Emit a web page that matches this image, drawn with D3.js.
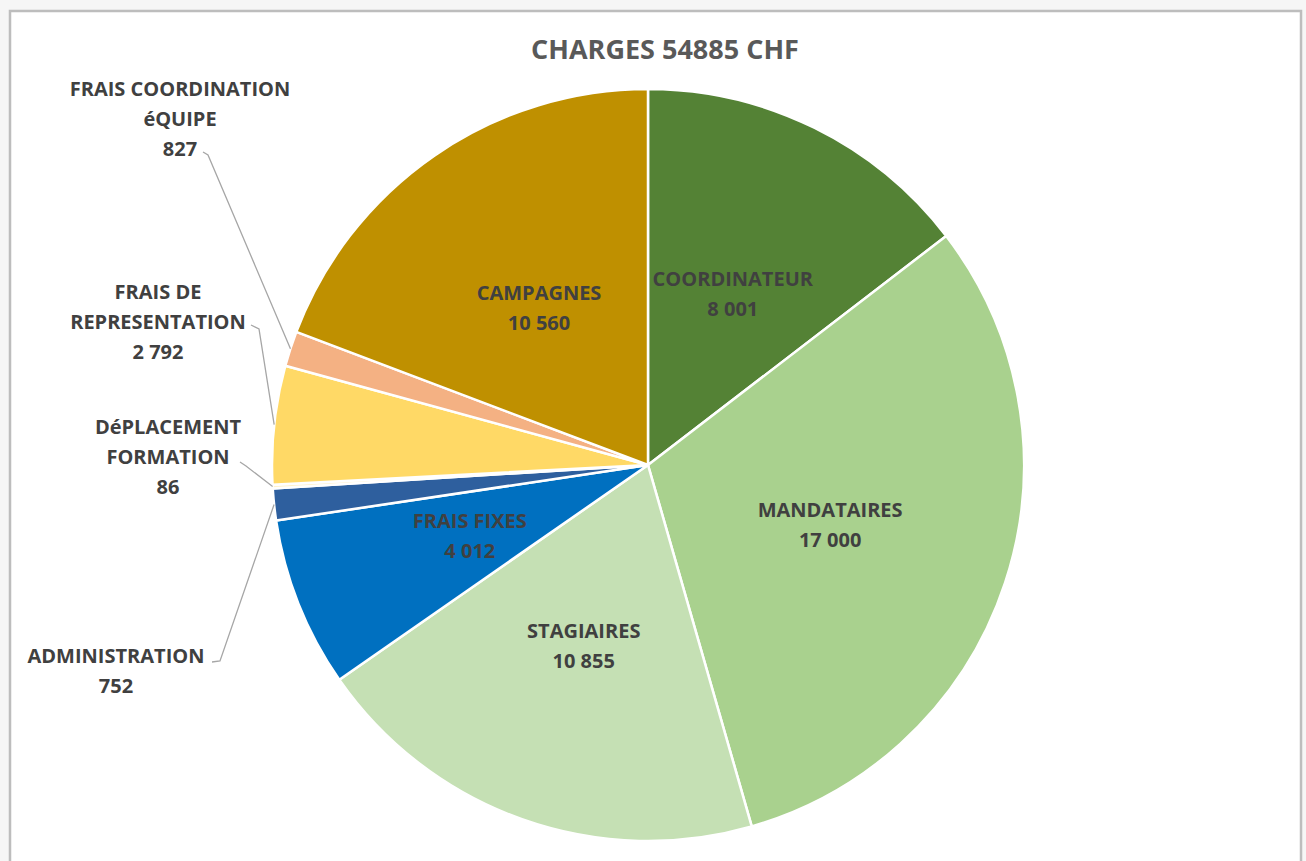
<!DOCTYPE html>
<html>
<head>
<meta charset="utf-8">
<script src="https://cdn.jsdelivr.net/npm/d3@7"></script>
<style>
  html, body { margin: 0; padding: 0; background: #f6f6f6; }
  svg { display: block; }
</style>
</head>
<body>
<svg id="chart" width="1306" height="861"></svg>
<script>
// ---- data ----
const categories = ["COORDINATEUR", "MANDATAIRES", "STAGIAIRES", "FRAIS FIXES", "ADMINISTRATION",
  "DéPLACEMENT FORMATION", "FRAIS DE REPRESENTATION", "FRAIS COORDINATION éQUIPE", "CAMPAGNES"];
const values = [8001, 17000, 10855, 4012, 752, 86, 2792, 827, 10560];
const valueLabels = ["8 001", "17 000", "10 855", "4 012", "752", "86", "2 792", "827", "10 560"];
const labelLines = [["COORDINATEUR"], ["MANDATAIRES"], ["STAGIAIRES"], ["FRAIS FIXES"], ["ADMINISTRATION"],
  ["DéPLACEMENT", "FORMATION"], ["FRAIS DE", "REPRESENTATION"], ["FRAIS COORDINATION", "éQUIPE"], ["CAMPAGNES"]];
const colors = ["#548235", "#a9d18e", "#c5e0b4", "#0070c0", "#2e5f9e", "#fff2cc", "#ffd966", "#f4b183", "#bf9000"];
const titleText = "CHARGES 54885 CHF";

// ---- layout (styling only) ----
const W = 1306, H = 861;
const cx = 648, cy = 465, R = 376;
// outside labels: text center x, first-line center y, leader start points
const outside = {
  4: { x: 116, y: 655, tick: [[212, 662], [220, 661]] },
  5: { x: 168, y: 426, tick: [[240, 462], [246, 466]] },
  6: { x: 158, y: 291, tick: [[251, 325], [259, 329]] },
  7: { x: 180, y: 88,  tick: [[203, 152], [208, 155]] }
};

const svg = d3.select("#chart");

// frame
svg.append("rect").attr("x", 0).attr("y", 0).attr("width", W).attr("height", H).attr("fill", "#f6f6f6");
svg.append("rect").attr("x", 10).attr("y", 11).attr("width", 1291).attr("height", 900)
  .attr("fill", "#ffffff").attr("stroke", "#bdbdbd").attr("stroke-width", 2.5);

// title
svg.append("text").attr("x", 665).attr("y", 48)
  .attr("text-anchor", "middle").attr("dominant-baseline", "central")
  .attr("font-family", "'Open Sans', sans-serif").attr("font-weight", 700)
  .attr("font-size", 27).attr("fill", "#595959").text(titleText);

const pie = d3.pie().sort(null).value(d => d)(values);
const arc = d3.arc().innerRadius(0).outerRadius(R);
const labelArc = d3.arc().innerRadius(R * 0.51).outerRadius(R * 0.51);
const edgeArc = d3.arc().innerRadius(R).outerRadius(R);

const g = svg.append("g").attr("transform", `translate(${cx},${cy})`);
g.selectAll("path.slice").data(pie).join("path")
  .attr("class", "slice")
  .attr("d", arc)
  .attr("fill", (d, i) => colors[i])
  .attr("stroke", "#ffffff").attr("stroke-width", 2.5).attr("stroke-linejoin", "round");

const font = "'Open Sans', sans-serif";
const fs = 20, lh = 30;

// inside labels
pie.forEach((d, i) => {
  if (outside[i]) return;
  const [x, y] = labelArc.centroid(d);
  const lines = labelLines[i].concat([valueLabels[i]]);
  const t = g.append("text").attr("text-anchor", "middle")
    .attr("font-family", font).attr("font-weight", 700).attr("font-size", fs)
    .attr("fill", "#404040");
  const y0 = y - (lines.length - 1) * lh / 2;
  lines.forEach((s, k) => {
    t.append("tspan").attr("x", x).attr("y", y0 + k * lh).attr("dominant-baseline", "central").text(s);
  });
});

// outside labels + leader lines
Object.keys(outside).forEach(key => {
  const i = +key, o = outside[i], d = pie[i];
  const lines = labelLines[i].concat([valueLabels[i]]);
  const t = svg.append("text").attr("text-anchor", "middle")
    .attr("font-family", font).attr("font-weight", 700).attr("font-size", fs)
    .attr("fill", "#404040");
  lines.forEach((s, k) => {
    t.append("tspan").attr("x", o.x).attr("y", o.y + k * lh).attr("dominant-baseline", "central").text(s);
  });
  const [ex, ey] = edgeArc.centroid(d);
  const pts = o.tick.concat([[cx + ex, cy + ey]]);
  svg.append("path").attr("d", d3.line()(pts))
    .attr("fill", "none").attr("stroke", "#a6a6a6").attr("stroke-width", 1.3);
});
</script>
</body>
</html>
